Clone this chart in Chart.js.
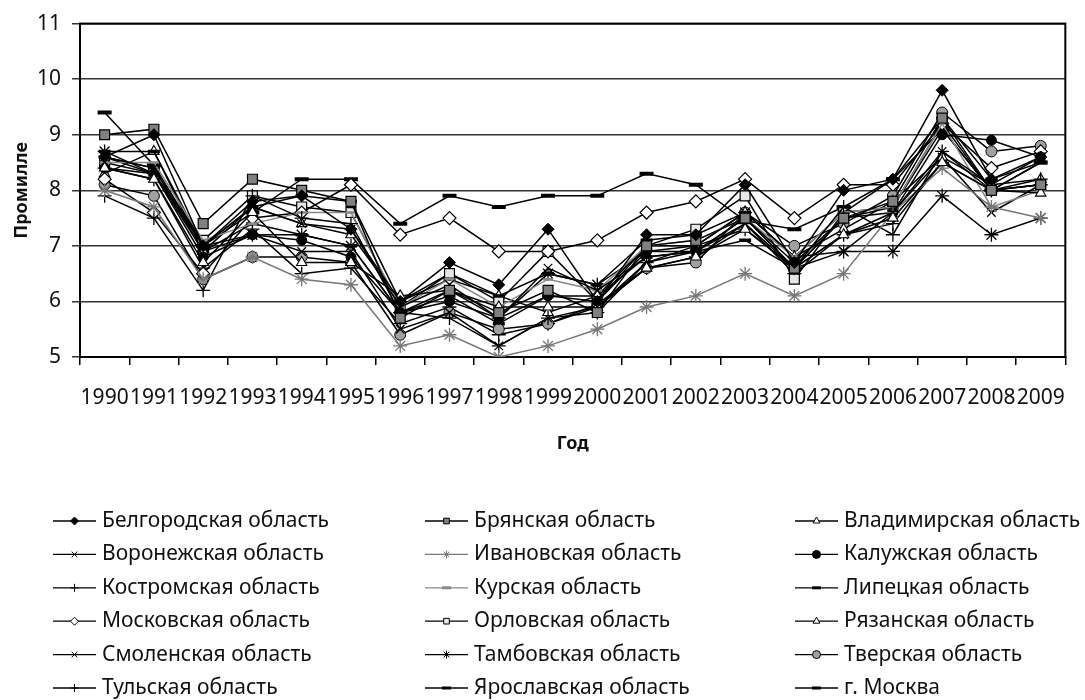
<!DOCTYPE html>
<html><head><meta charset="utf-8">
<script src="https://cdn.jsdelivr.net/npm/chart.js@4.4.1/dist/chart.umd.min.js"></script>
<style>html,body{margin:0;padding:0;background:#fff;}#wrap{width:1085px;height:700px;}</style>
</head><body><div id="wrap"><canvas id="c" width="1085" height="700"></canvas></div>
<script>
const years = ['1990','1991','1992','1993','1994','1995','1996','1997','1998','1999','2000','2001','2002','2003','2004','2005','2006','2007','2008','2009'];
const yTicks = [5, 6, 7, 8, 9, 10, 11];
const seriesNames = ['Белгородская область','Брянская область','Владимирская область','Воронежская область','Ивановская область','Калужская область','Костромская область','Курская область','Липецкая область','Московская область','Орловская область','Рязанская область','Смоленская область','Тамбовская область','Тверская область','Тульская область','Ярославская область','г. Москва'];

const belgorod  = [8.6, 9.0, 7.0, 7.8, 7.9, 7.3, 6.0, 6.7, 6.3, 7.3, 6.0, 7.2, 7.2, 8.1, 6.7, 8.0, 8.2, 9.8, 8.2, 8.6];
const bryansk   = [9.0, 9.1, 7.4, 8.2, 8.0, 7.8, 5.7, 6.2, 5.8, 6.2, 5.8, 7.0, 7.1, 7.5, 6.6, 7.5, 7.8, 9.3, 8.0, 8.1];
const vladimir  = [8.4, 8.2, 6.7, 7.6, 6.7, 6.7, 6.1, 6.2, 5.9, 5.9, 5.9, 6.6, 6.8, 7.3, 6.6, 7.2, 7.5, 8.5, 8.0, 7.95];
const voronezh  = [8.6, 8.4, 7.0, 7.7, 7.4, 7.3, 5.9, 6.3, 5.7, 6.6, 6.2, 6.8, 6.9, 7.5, 6.6, 7.2, 7.6, 8.7, 8.1, 8.6];
const ivanovo   = [8.0, 7.7, 6.4, 6.8, 6.4, 6.3, 5.2, 5.4, 5.0, 5.2, 5.5, 5.9, 6.1, 6.5, 6.1, 6.5, 7.6, 8.4, 7.7, 7.5];
const kaluga    = [8.4, 8.3, 6.8, 7.2, 7.1, 6.8, 5.8, 6.0, 5.7, 6.1, 6.0, 6.9, 6.9, 7.5, 6.7, 7.5, 7.6, 9.0, 8.9, 8.6];
const kostroma  = [7.9, 7.5, 6.2, 7.9, 7.5, 7.4, 5.8, 5.7, 5.2, 5.7, 5.8, 6.7, 7.0, 7.3, 6.6, 7.7, 7.2, 8.7, 8.0, 8.2];
const kursk     = [8.5, 8.5, 7.1, 7.4, 7.6, 7.6, 5.9, 6.4, 5.9, 6.4, 6.2, 7.0, 7.1, 7.5, 6.8, 7.6, 7.7, 9.2, 7.7, 8.0];
const lipetsk   = [8.7, 8.7, 7.0, 7.7, 7.9, 7.8, 6.0, 6.4, 6.1, 6.5, 6.3, 7.1, 7.2, 7.6, 6.8, 7.6, 8.2, 9.3, 8.2, 8.5];
const moscowObl = [8.2, 7.6, 6.5, 7.5, 7.6, 8.1, 7.2, 7.5, 6.9, 6.9, 7.1, 7.6, 7.8, 8.2, 7.5, 8.1, 8.1, 9.2, 8.4, 8.7];
const orel      = [8.5, 8.3, 7.1, 7.9, 7.7, 7.6, 5.9, 6.5, 6.0, 6.9, 6.0, 7.0, 7.3, 7.9, 6.4, 7.6, 7.7, 9.2, 8.0, 8.1];
const ryazan    = [8.3, 8.7, 6.9, 7.7, 7.4, 7.2, 6.0, 6.5, 6.1, 5.8, 6.1, 7.0, 7.0, 7.6, 6.8, 7.3, 7.8, 8.6, 8.1, 8.2];
const smolensk  = [8.6, 8.3, 6.9, 7.2, 6.9, 6.9, 5.5, 5.8, 5.2, 5.7, 5.9, 6.7, 6.9, 7.4, 6.6, 6.9, 7.6, 8.6, 7.6, 8.1];
const tambov    = [8.7, 8.3, 7.0, 7.2, 7.2, 7.0, 5.8, 6.2, 5.7, 6.5, 6.3, 6.9, 7.0, 7.6, 6.8, 6.9, 6.9, 7.9, 7.2, 7.5];
const tver      = [8.1, 7.9, 6.4, 6.8, 6.8, 6.7, 5.4, 5.8, 5.5, 5.6, 5.95, 6.6, 6.7, 7.6, 7.0, 7.4, 7.9, 9.4, 8.7, 8.8];
const tula      = [8.4, 8.2, 6.6, 7.3, 6.5, 6.6, 5.6, 5.9, 5.4, 5.6, 5.9, 6.6, 6.8, 7.4, 6.5, 7.2, 7.4, 8.5, 8.0, 8.1];
const yaroslavl = [8.6, 8.4, 6.9, 7.4, 7.2, 7.0, 5.8, 6.1, 5.6, 6.1, 6.1, 6.8, 6.9, 7.1, 6.6, 7.5, 7.7, 9.1, 8.0, 8.5];
const moscow    = [9.4, 8.45, 7.0, 7.6, 8.2, 8.2, 7.4, 7.9, 7.7, 7.9, 7.9, 8.3, 8.1, 7.45, 7.3, 7.7, 8.2, 9.1, 8.0, 8.5];

const seriesValues = [belgorod, bryansk, vladimir, voronezh, ivanovo, kaluga, kostroma, kursk, lipetsk, moscowObl, orel, ryazan, smolensk, tambov, tver, tula, yaroslavl, moscow];

// style per series: [pointStyle, fill, stroke, lineColor, radius, pointBorderWidth]
const styles = [
  ['rectRot', '#000', '#000', '#000', 6, 1],
  ['rect', '#808080', '#000', '#000', 7, 1.2],
  ['triangle', '#fff', '#000', '#000', 6, 1.1],
  ['crossRot', '#000', '#000', '#000', 6, 1.3],
  ['star', '#777', '#777', '#777', 7, 1.3],
  ['circle', '#000', '#000', '#000', 5, 1],
  ['cross', '#000', '#000', '#000', 7, 1.3],
  ['line', '#888', '#888', '#888', 5, 2.5],
  ['line', '#000', '#000', '#000', 6, 3.5],
  ['rectRot', '#fff', '#000', '#000', 6.5, 1.2],
  ['rect', '#e6e6e6', '#000', '#000', 7, 1.2],
  ['triangle', '#fff', '#000', '#000', 6, 1.1],
  ['crossRot', '#000', '#000', '#000', 6, 1.3],
  ['star', '#000', '#000', '#000', 7, 1.3],
  ['circle', '#a0a0a0', '#000', '#000', 5.5, 1],
  ['cross', '#000', '#000', '#000', 7, 1.3],
  ['line', '#000', '#000', '#000', 6, 3.5],
  ['line', '#000', '#000', '#000', 7, 4]
];

const datasets = seriesNames.map((name, i) => ({
  label: name,
  data: seriesValues[i],
  borderColor: styles[i][3],
  backgroundColor: styles[i][1],
  borderWidth: 1.5,
  pointStyle: styles[i][0],
  pointBackgroundColor: styles[i][1],
  pointBorderColor: styles[i][2],
  pointRadius: styles[i][4],
  pointBorderWidth: styles[i][5],
  pointHoverRadius: styles[i][4],
  tension: 0,
  fill: false
}));

const FONT = 'Noto Sans';

const framePlugin = {
  id: 'frame',
  beforeDatasetsDraw(chart) {
    const {ctx, chartArea: a} = chart;
    ctx.save();
    ctx.strokeStyle = '#000';
    ctx.lineWidth = 2;
    ctx.strokeRect(a.left, a.top, a.right - a.left, a.bottom - a.top);
    ctx.restore();
  }
};

function drawMarker(ctx, st, x, y, r) {
  const bw = st[0] === 'line' ? 3 : 1;
  const opts = {pointStyle: st[0], radius: r, borderWidth: bw, rotation: 0};
  ctx.fillStyle = st[1];
  ctx.strokeStyle = st[2];
  ctx.lineWidth = bw;
  if (Chart.helpers && Chart.helpers.drawPoint) {
    Chart.helpers.drawPoint(ctx, opts, x, y);
  } else {
    ctx.beginPath(); ctx.arc(x, y, r, 0, Math.PI * 2); ctx.fill(); ctx.stroke();
  }
}

const legendPlugin = {
  id: 'gridLegend',
  afterDraw(chart) {
    const ctx = chart.ctx;
    const colSample = [53, 425, 795];
    const sampleLen = 43;
    const textGap = 6;
    const row0 = 521, rowStep = 33.4;
    ctx.save();
    chart.data.datasets.forEach((ds, i) => {
      const col = i % 3, row = Math.floor(i / 3);
      const x0 = colSample[col], y = row0 + row * rowStep;
      ctx.strokeStyle = styles[i][3];
      ctx.lineWidth = 1.3;
      ctx.beginPath(); ctx.moveTo(x0, y); ctx.lineTo(x0 + sampleLen, y); ctx.stroke();
      const st = styles[i];
      const r = st[0] === 'line' ? 4.5 : 4;
      drawMarker(ctx, st, x0 + sampleLen / 2, y, r);
      ctx.fillStyle = '#111';
      ctx.font = '21px "' + FONT + '"';
      ctx.textBaseline = 'middle';
      ctx.textAlign = 'left';
      ctx.fillText(ds.label, x0 + sampleLen + textGap, y);
    });
    ctx.restore();
  }
};

new Chart(document.getElementById('c'), {
  type: 'line',
  data: {labels: years, datasets},
  plugins: [framePlugin, legendPlugin],
  options: {
    responsive: false,
    animation: false,
    events: [],
    layout: {padding: {left: 0, right: 6, top: 17, bottom: 245}},
    plugins: {legend: {display: false}, tooltip: {enabled: false}},
    scales: {
      x: {
        offset: true,
        grid: {offset: true, drawOnChartArea: false, drawTicks: true, tickLength: 8, color: '#000', lineWidth: 1.5},
        border: {display: true, color: '#000', width: 2},
        ticks: {autoSkip: false, maxRotation: 0, minRotation: 0, padding: 20, color: '#111', font: {family: FONT, size: 21}},
        title: {display: true, text: 'Год', color: '#111', font: {family: FONT, size: 18, weight: 'bold'}, padding: {top: 0, bottom: 0}},
        afterFit(s) { s.height = 98; }
      },
      y: {
        min: yTicks[0], max: yTicks[yTicks.length - 1],
        afterBuildTicks(s) { s.ticks = yTicks.map(v => ({value: v})); },
        ticks: {stepSize: 1, padding: 11, color: '#111', font: {family: FONT, size: 21}},
        grid: {color: '#333', lineWidth: 1.5, tickLength: 8},
        border: {display: true, color: '#000', width: 2},
        title: {display: true, text: 'Промилле', color: '#111', font: {family: FONT, size: 18, weight: 'bold'}, padding: {top: 11, bottom: 0}},
        afterFit(s) { s.width = 80; }
      }
    }
  }
});
</script>
</body></html>
